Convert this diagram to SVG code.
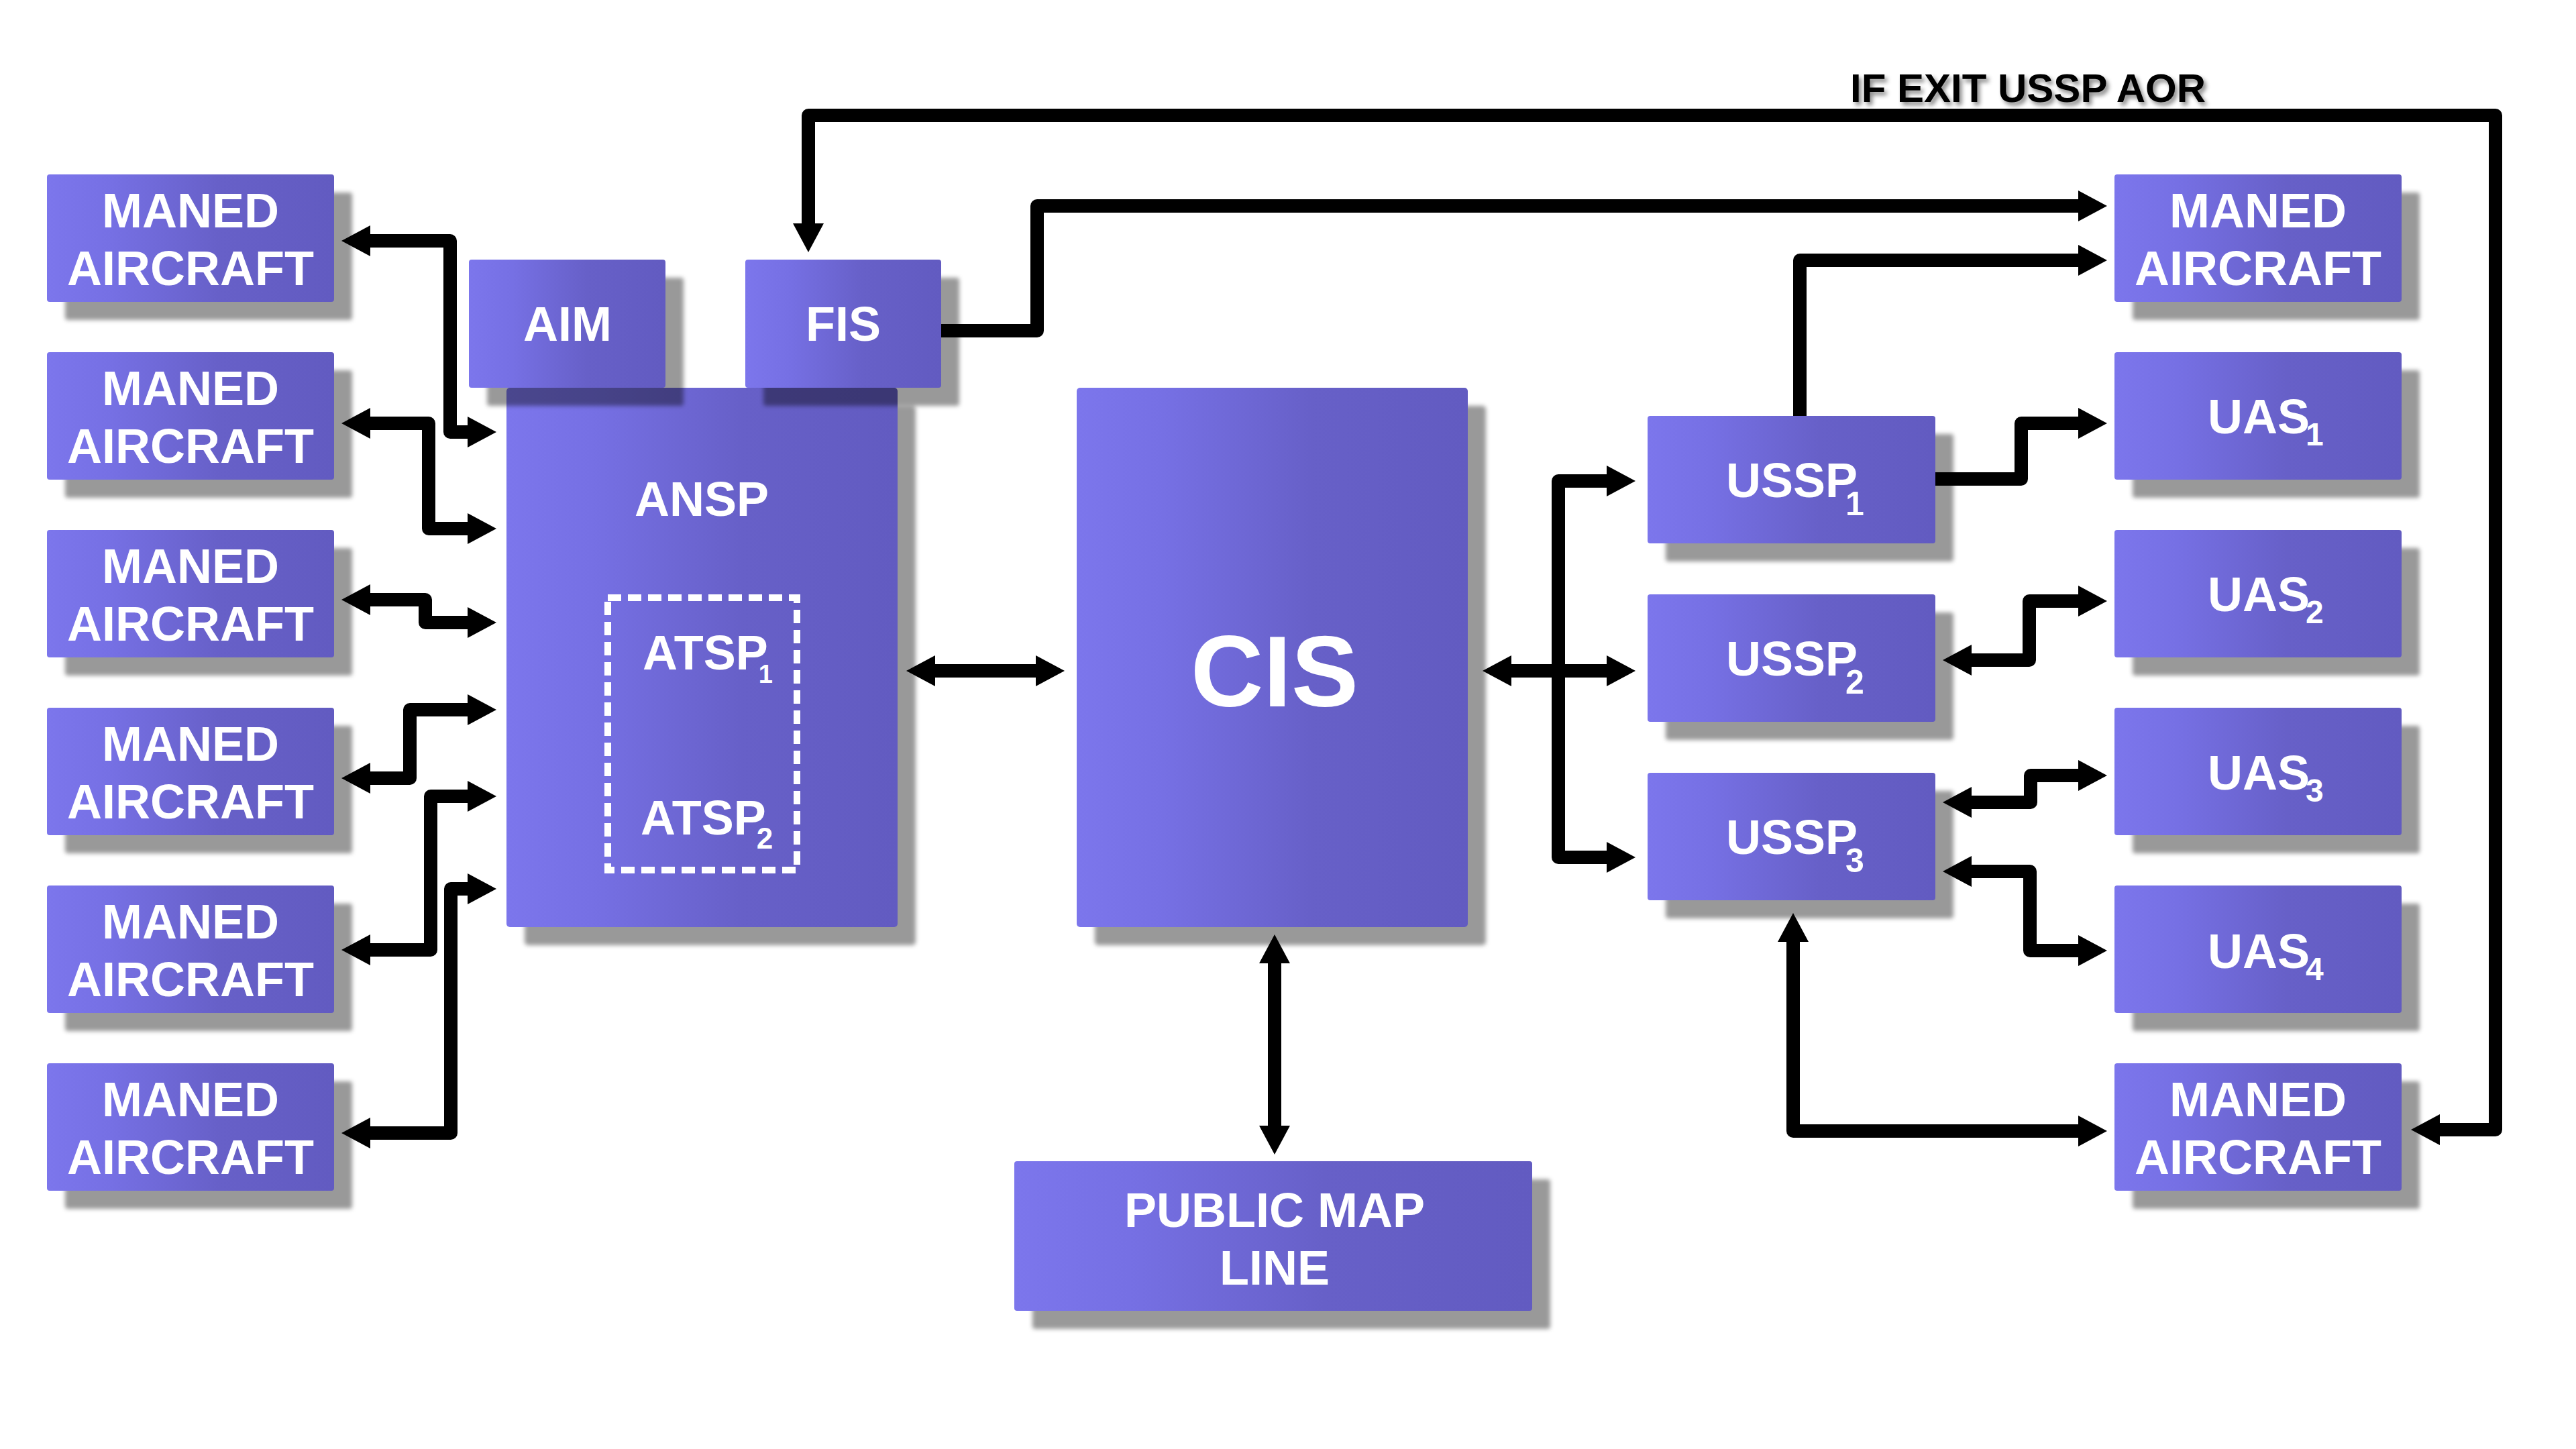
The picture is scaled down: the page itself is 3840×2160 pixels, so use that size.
<svg xmlns="http://www.w3.org/2000/svg" width="3840" height="2160" viewBox="0 0 3840 2160">
<defs>
<linearGradient id="g" x1="0" y1="0" x2="1" y2="0">
<stop offset="0" stop-color="#7c76ec"/>
<stop offset="0.22" stop-color="#7670e4"/>
<stop offset="0.6" stop-color="#6760c8"/>
<stop offset="1" stop-color="#625bc1"/>
</linearGradient>
<filter id="blur" x="-10%" y="-10%" width="120%" height="120%"><feGaussianBlur stdDeviation="3"/></filter>
<filter id="ts" x="-5%" y="-30%" width="110%" height="160%"><feDropShadow dx="4" dy="5" stdDeviation="3" flood-color="#000" flood-opacity="0.45"/></filter>
<marker id="ah" markerUnits="userSpaceOnUse" markerWidth="50" markerHeight="50" refX="1" refY="23" orient="auto-start-reverse" overflow="visible"><path d="M0,0 L43,23 L0,46 Z" fill="#000"/></marker>
<style>
.sh{fill:#000;fill-opacity:0.4;filter:url(#blur)}
.bx{fill:url(#g)}
.t{font-family:"Liberation Sans",Arial,sans-serif;font-weight:bold;font-size:72px;fill:#fff}
.tm{text-anchor:middle}
.big{font-size:150px}
.s1{font-size:50px}
.s2{font-size:48px}
.c{fill:none;stroke:#000;stroke-width:20;stroke-linejoin:round;stroke-linecap:butt}
.d{marker-start:url(#ah);marker-end:url(#ah)}
.e{marker-end:url(#ah)}
.lbl{font-family:"Liberation Sans",Arial,sans-serif;font-weight:bold;font-size:60px;fill:#000}
</style>
</defs>
<rect width="3840" height="2160" fill="#fff"/>

<g id="ma-l1"><rect class="sh" x="97" y="287" width="428" height="190" rx="4"/><rect class="bx" x="70" y="260" width="428" height="190" rx="4"/><text class="t tm" x="284" y="339">MANED</text><text class="t tm" x="284" y="425">AIRCRAFT</text></g>
<g id="ma-l2"><rect class="sh" x="97" y="552" width="428" height="190" rx="4"/><rect class="bx" x="70" y="525" width="428" height="190" rx="4"/><text class="t tm" x="284" y="604">MANED</text><text class="t tm" x="284" y="690">AIRCRAFT</text></g>
<g id="ma-l3"><rect class="sh" x="97" y="817" width="428" height="190" rx="4"/><rect class="bx" x="70" y="790" width="428" height="190" rx="4"/><text class="t tm" x="284" y="869">MANED</text><text class="t tm" x="284" y="955">AIRCRAFT</text></g>
<g id="ma-l4"><rect class="sh" x="97" y="1082" width="428" height="190" rx="4"/><rect class="bx" x="70" y="1055" width="428" height="190" rx="4"/><text class="t tm" x="284" y="1134">MANED</text><text class="t tm" x="284" y="1220">AIRCRAFT</text></g>
<g id="ma-l5"><rect class="sh" x="97" y="1347" width="428" height="190" rx="4"/><rect class="bx" x="70" y="1320" width="428" height="190" rx="4"/><text class="t tm" x="284" y="1399">MANED</text><text class="t tm" x="284" y="1485">AIRCRAFT</text></g>
<g id="ma-l6"><rect class="sh" x="97" y="1612" width="428" height="190" rx="4"/><rect class="bx" x="70" y="1585" width="428" height="190" rx="4"/><text class="t tm" x="284" y="1664">MANED</text><text class="t tm" x="284" y="1750">AIRCRAFT</text></g>

<g id="ansp"><rect class="sh" x="782" y="605" width="583" height="804" rx="5"/><rect class="bx" x="755" y="578" width="583" height="804" rx="5"/><text class="t tm" x="1046" y="769">ANSP</text>
<rect x="906" y="891" width="282" height="406" fill="none" stroke="#fff" stroke-width="10" stroke-dasharray="20 10"/>
<text class="t" x="958" y="998">ATSP<tspan dx="-14" dy="20" font-size="38">1</tspan></text>
<text class="t" x="955" y="1244">ATSP<tspan dx="-14" dy="21" font-size="44">2</tspan></text></g>
<g id="aim"><rect class="sh" x="726" y="414" width="293" height="191" rx="4"/><rect class="bx" x="699" y="387" width="293" height="191" rx="4"/><text class="t tm" x="846" y="508">AIM</text></g>
<g id="fis"><rect class="sh" x="1138" y="414" width="292" height="191" rx="4"/><rect class="bx" x="1111" y="387" width="292" height="191" rx="4"/><text class="t tm" x="1257" y="508">FIS</text></g>

<g id="cis"><rect class="sh" x="1632" y="605" width="583" height="804" rx="5"/><rect class="bx" x="1605" y="578" width="583" height="804" rx="5"/><text class="t tm big" x="1900" y="1053">CIS</text></g>
<g id="pml"><rect class="sh" x="1539" y="1758" width="772" height="223" rx="4"/><rect class="bx" x="1512" y="1731" width="772" height="223" rx="4"/><text class="t tm" x="1900" y="1829">PUBLIC MAP</text><text class="t tm" x="1900" y="1915">LINE</text></g>

<g id="ussp1"><rect class="sh" x="2483" y="647" width="429" height="190" rx="4"/><rect class="bx" x="2456" y="620" width="429" height="190" rx="4"/><text class="t" x="2573" y="741">USSP<tspan class="s1" dx="-18" dy="27">1</tspan></text></g>
<g id="ussp2"><rect class="sh" x="2483" y="913" width="429" height="190" rx="4"/><rect class="bx" x="2456" y="886" width="429" height="190" rx="4"/><text class="t" x="2573" y="1007">USSP<tspan class="s1" dx="-18" dy="27">2</tspan></text></g>
<g id="ussp3"><rect class="sh" x="2483" y="1179" width="429" height="190" rx="4"/><rect class="bx" x="2456" y="1152" width="429" height="190" rx="4"/><text class="t" x="2573" y="1273">USSP<tspan class="s1" dx="-18" dy="27">3</tspan></text></g>

<g id="ma-r1"><rect class="sh" x="3179" y="287" width="428" height="190" rx="4"/><rect class="bx" x="3152" y="260" width="428" height="190" rx="4"/><text class="t tm" x="3366" y="339">MANED</text><text class="t tm" x="3366" y="425">AIRCRAFT</text></g>
<g id="uas1"><rect class="sh" x="3179" y="552" width="428" height="190" rx="4"/><rect class="bx" x="3152" y="525" width="428" height="190" rx="4"/><text class="t" x="3291" y="646">UAS<tspan class="s2" dx="-6" dy="18">1</tspan></text></g>
<g id="uas2"><rect class="sh" x="3179" y="817" width="428" height="190" rx="4"/><rect class="bx" x="3152" y="790" width="428" height="190" rx="4"/><text class="t" x="3291" y="911">UAS<tspan class="s2" dx="-6" dy="18">2</tspan></text></g>
<g id="uas3"><rect class="sh" x="3179" y="1082" width="428" height="190" rx="4"/><rect class="bx" x="3152" y="1055" width="428" height="190" rx="4"/><text class="t" x="3291" y="1177">UAS<tspan class="s2" dx="-6" dy="18">3</tspan></text></g>
<g id="uas4"><rect class="sh" x="3179" y="1347" width="428" height="190" rx="4"/><rect class="bx" x="3152" y="1320" width="428" height="190" rx="4"/><text class="t" x="3291" y="1443">UAS<tspan class="s2" dx="-6" dy="18">4</tspan></text></g>
<g id="ma-r2"><rect class="sh" x="3179" y="1612" width="428" height="190" rx="4"/><rect class="bx" x="3152" y="1585" width="428" height="190" rx="4"/><text class="t tm" x="3366" y="1664">MANED</text><text class="t tm" x="3366" y="1750">AIRCRAFT</text></g>

<text id="exit-label" class="lbl" x="2758" y="152" filter="url(#ts)">IF EXIT USSP AOR</text>

<g id="connectors">
<path class="c d" d="M551,359 H671 V644 H698"/>
<path class="c d" d="M551,631 H639 V788 H698"/>
<path class="c d" d="M551,894 H634 V928 H698"/>
<path class="c d" d="M551,1160 H611 V1058 H698"/>
<path class="c d" d="M551,1416 H642 V1187 H698"/>
<path class="c d" d="M551,1689 H672 V1325 H698"/>
<path class="c d" d="M1393,1000 H1545"/>
<path class="c d" d="M2252,1000 H2396"/>
<path class="c d" d="M2396,717 H2323 V1278 H2396"/>
<path class="c d" d="M1900,1435 V1679"/>
<path class="c e" d="M2885,714 H3013 V631 H3099"/>
<path class="c d" d="M2938,984 H3025 V896 H3099"/>
<path class="c d" d="M2938,1196 H3027 V1156 H3099"/>
<path class="c d" d="M2938,1299 H3026 V1417 H3099"/>
<path class="c d" d="M2673,1403 V1686 H3099"/>
<path class="c e" d="M1403,493 H1546 V307 H3099"/>
<path class="c e" d="M2683,620 V388 H3099"/>
<path class="c d" d="M3636,1684 H3720 V172 H1205 V334"/>
</g>
</svg>
